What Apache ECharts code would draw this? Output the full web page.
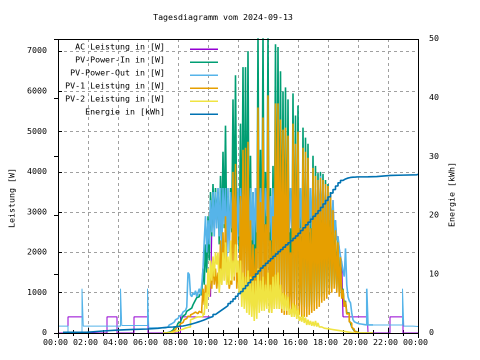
<!DOCTYPE html>
<html><head><meta charset="utf-8">
<script src="https://cdn.jsdelivr.net/npm/echarts@6/dist/echarts.min.js"></script>
<style>html,body{margin:0;padding:0;background:#fff}#c{width:480px;height:360px}</style>
</head><body><div id="c"></div>
<script>
// ---- data (minutes since 00:00) ----
const titleText = 'Tagesdiagramm vom 2024-09-13';
const seriesNames = ['AC Leistung in [W]', 'PV-Power-In in [W]', 'PV-Power-Out in [W]', 'PV-1 Leistung in [W]', 'PV-2 Leistung in [W]', 'Energie in [kWh]'];

const dayStart = 420, dayStep = 5;   // 07:00, every 5 minutes up to 21:00

const pvInDay = [
  0,0,0,10,20,30,50,70,100,130,160,200,
  240,280,320,360,420,460,500,540,580,560,620,660,
  700,760,820,880,900,950,950,1000,1600,1200,2200,1500,
  2900,1800,3500,2400,3700,2600,3600,2800,3500,2200,3900,2400,
  4500,2600,5150,2400,3400,2300,3600,2500,5800,2700,6400,2600,
  3500,2000,5200,1700,6600,1600,6600,1400,7000,1200,4400,1100,
  3500,900,3400,1000,7400,1200,4550,1300,7400,1200,4000,1300,
  7400,1100,3600,1000,4150,1200,7170,1300,7100,1200,6500,1100,
  6000,1000,6100,1000,5800,900,2600,800,5950,850,5400,800,
  5650,750,3000,700,5100,650,4850,600,4700,650,2900,700,
  4400,750,4150,800,3970,850,4000,900,3950,950,3800,1000,
  3700,1100,3500,1100,3100,1200,2600,1100,2300,1000,1900,900,
  1100,700,800,500,500,300,250,150,100,50,30,0,
  0,0,0,0,0,0,0,0,0,0,0,0,
  0
];
const pv1Day = [
  0,0,0,5,10,15,30,45,65,85,110,140,
  170,200,230,260,300,330,360,390,420,400,450,480,
  500,520,520,480,520,540,500,600,1100,700,1200,900,
  1300,900,1700,1100,1800,1200,1600,1100,1500,1100,2300,1200,
  2500,1300,2900,1200,1500,1100,1300,1200,4000,1300,4200,1100,
  1700,1000,3400,900,4550,900,4600,800,4750,700,2800,650,
  2200,550,2100,600,5600,700,3250,750,5350,650,2700,700,
  5900,600,2300,500,2900,600,5700,700,5700,600,5300,500,
  5050,450,5100,450,4900,450,2000,400,5200,450,4700,450,
  5000,450,2600,400,4600,400,4500,400,4350,450,2600,500,
  4100,550,3900,600,3800,650,3850,750,3800,800,3700,850,
  3650,950,3450,1000,3050,1100,2550,1000,2250,900,1880,850,
  1080,650,780,470,490,280,240,140,95,45,25,0,
  0,0,0,0,0,0,0,0,0,0,0,0,
  0
];
const pv2Day = [
  0,0,0,0,5,10,15,20,25,35,45,55,
  65,75,85,95,110,120,130,140,150,150,330,350,
  370,380,390,400,400,400,410,420,500,450,1000,600,
  1600,900,1800,1300,1900,1400,2000,1700,2000,1000,1600,1200,
  2000,1300,2250,1200,1900,1200,2300,1300,1800,1400,2200,1500,
  1800,1000,1800,650,1500,600,1400,500,1550,450,1400,400,
  1300,300,1300,350,1600,500,1300,550,1400,550,1200,600,
  1500,500,1200,500,1400,600,1450,600,1500,600,1200,600,
  1000,550,950,550,900,450,600,400,750,400,700,350,
  600,300,400,280,450,250,380,200,330,200,300,180,
  280,170,300,160,250,150,150,120,120,100,110,90,
  100,80,90,70,80,60,70,50,60,40,50,40,
  40,30,30,20,20,10,10,5,0,0,0,0,
  0,0,0,0,0,0,0,0,0,0,0,0,
  0
];
const pvOutDay = [
  130,130,140,150,180,200,230,250,270,300,330,360,
  400,420,450,480,520,560,600,640,1500,1450,950,900,
  1000,950,1050,900,1000,1100,950,1200,1600,2300,2900,2000,
  2800,2200,3300,2500,3500,2400,3500,2600,3600,2400,3600,2000,
  3600,2700,3600,1900,3600,2000,3500,2600,3600,2700,3600,2200,
  3600,2400,3600,2600,3600,2800,3600,2600,3600,2400,3600,2300,
  3500,2200,3600,2500,3600,2600,3600,2800,3600,2700,3600,2900,
  3600,2500,3400,2300,3600,2600,3600,2800,3600,2700,3600,2600,
  3600,2400,3600,2700,3600,2500,3600,2600,3600,2800,3600,2500,
  3600,2600,3600,2400,3600,2600,3600,2700,3600,2500,3600,2600,
  3600,2700,3600,2600,3800,2700,3900,2800,3700,2700,3700,2600,
  3600,2800,3400,2500,3300,2500,2800,2300,2400,2100,1900,1750,
  1550,1400,2100,1200,900,800,750,500,330,280,250,230,
  230,220,220,210,210,200,200,1100,200,200,200,200,
  200
];
const pvOutNightAM = [[0,170],[40,0],[96,1100],[101,170],[250,1100],[255,185],[358,1100],[363,130],[420,130]];
const pvOutNightPM = [[1260,200],[1378,1100],[1383,170],[1420,160],[1440,160]];

const acNightAM = [[0,0],[40,400],[96,0],[196,400],[236,0],[304,400],[360,0],[490,400]];
const acDayStart = 610, acDayStep = 5;  // 10:10 .. 18:55
const acDay = [
  900,2500,3500,2400,3500,2600,3600,2400,3600,2000,
  3600,2700,3600,1900,3600,2000,3500,2600,3600,2700,3600,2200,
  3600,2400,3600,2600,3600,2800,3600,2600,3600,2400,3600,2300,
  3500,2200,3600,2500,3600,2600,3600,2800,3600,2700,3600,2900,
  3600,2500,3400,2300,3600,2600,3600,2800,3600,2700,3600,2600,
  3600,2400,3600,2700,3600,2500,3600,2600,3600,2800,3600,2500,
  3600,2600,3600,2400,3600,2600,3600,2700,3600,2500,3600,2600,
  3600,2700,3600,2600,3600,2700,3600,2800,3600,2700,3600,2600,
  3600,2800,3400,2500,3300,2500,2800,2300,2400,2100,1900,1750
];
const acNightPM = [[1140,400],[1236,750],[1240,0],[1328,400],[1380,0],[1440,0]];

const energyAM = [[20,0.12],[115,0.34],[180,0.50],[240,0.60],[300,0.68],[360,0.80],[400,0.90]];
const energyDayStart = 420, energyDayStep = 10; // 07:00 .. 20:00
const energyDay = [
  0.95,0.98,1.00,1.02,1.06,1.10,
  1.15,1.19,1.28,1.38,1.48,1.60,
  1.72,1.86,2.00,2.15,2.32,2.50,
  2.65,2.80,3.15,3.45,3.75,4.05,
  4.35,4.65,5.00,5.35,5.80,6.25,
  6.70,7.05,7.55,8.05,8.55,9.05,
  9.55,10.05,10.55,11.05,11.45,11.85,
  12.25,12.65,13.05,13.45,13.85,14.20,
  14.60,15.00,15.35,15.70,16.10,16.50,
  16.95,17.45,17.90,18.40,18.85,19.35,
  19.85,20.30,20.80,21.35,21.95,22.55,
  23.15,23.80,24.40,25.00,25.55,25.95,
  26.20,26.35,26.45,26.50,26.52,26.55,
  26.57
];
const energyPM = [[1240,26.6],[1275,26.8],[1330,26.85],[1380,26.9],[1435,27.0],[1440,27.0]];

// ---- build ----
const colors = ['#9400d3', '#009e73', '#56b4e9', '#e69f00', '#f0e442', '#0072b2'];
const mono = "'DejaVu Sans Mono', monospace";
const fs = 8.3;
function grid(arr, start, step) { return arr.map((v, i) => [start + i * step, v]); }
function fmtTime(v) {
  const h = Math.floor(v / 60) % 24, m = v % 60;
  return String(h).padStart(2, '0') + ':' + String(m).padStart(2, '0') + ' ';
}
// [seriesIndex(for colour/name), data, width, yAxis]
const drawList = [
  [0, acNightAM, 1, 0],
  [0, grid(acDay, acDayStart, acDayStep), 1.2, 0],
  [0, acNightPM, 1, 0],
  [1, grid(pvInDay, dayStart, dayStep), 1.6, 0],
  [2, pvOutNightAM, 1, 0],
  [2, grid(pvOutDay, dayStart, dayStep), 1.6, 0],
  [2, pvOutNightPM, 1, 0],
  [3, grid(pv1Day, dayStart, dayStep), 1.6, 0],
  [4, grid(pv2Day, dayStart, dayStep), 1.6, 0],
  [5, energyAM.concat(grid(energyDay, energyDayStart, energyDayStep), energyPM), 1.6, 1]
];
// join AC segments so steps stay continuous
drawList[0][1] = acNightAM.concat([[610, 400]]);
drawList[1][1] = grid(acDay, acDayStart, acDayStep).concat([[1140, 400]]);

const chart = echarts.init(document.getElementById('c'), null, {renderer: 'canvas', devicePixelRatio: 2});
const txt = {fontFamily: mono, fontSize: fs, color: '#000'};
const legendEls = [];
seriesNames.forEach((n, i) => {
  legendEls.push({type: 'text', x: 165, y: 47.5 + 13 * i, z: 100, silent: true,
    style: {text: n, fill: '#000', fontFamily: mono, fontSize: fs, textAlign: 'right', textVerticalAlign: 'middle', align: 'right', verticalAlign: 'middle'}});
  legendEls.push({type: 'line', z: 100, silent: true,
    shape: {x1: 190, y1: 49.25 + 13 * i, x2: 218, y2: 49.25 + 13 * i},
    style: {stroke: colors[i], lineWidth: 1.5}});
});

const option = {
  animation: false,
  backgroundColor: '#ffffff',
  grid: {left: 58, top: 39, right: 62, bottom: 27, containLabel: false},
  xAxis: [{
    type: 'value', min: 0, max: 1440, interval: 120, position: 'bottom',
    axisLine: {show: false},
    axisTick: {show: true, inside: true, length: 5, lineStyle: {color: '#000', width: 1}},
    minorTick: {show: true, splitNumber: 2, length: 3, lineStyle: {color: '#000', width: 1}},
    axisLabel: Object.assign({formatter: fmtTime, margin: 6}, txt),
    splitLine: {show: true, lineStyle: {color: '#a0a0a0', type: [3, 3], width: 1}},
    minorSplitLine: {show: false}
  }, {
    type: 'value', min: 0, max: 1440, interval: 120, position: 'top',
    axisLine: {show: false},
    axisTick: {show: true, inside: true, length: 5, lineStyle: {color: '#000', width: 1}},
    minorTick: {show: true, splitNumber: 2, length: 3, lineStyle: {color: '#000', width: 1}},
    axisLabel: {show: false},
    splitLine: {show: false}
  }],
  yAxis: [{
    type: 'value', min: 0, max: 7300, interval: 1000, position: 'left',
    axisLine: {show: false},
    axisTick: {show: true, inside: true, length: 4, lineStyle: {color: '#000', width: 1}},
    axisLabel: Object.assign({margin: 11, padding: [0, 0, 4, 0], formatter: v => (v % 1000 === 0 ? String(v) : '')}, txt),
    splitLine: {show: true, lineStyle: {color: '#a0a0a0', type: [3, 3], width: 1}}
  }, {
    type: 'value', min: 0, max: 50, interval: 10, position: 'right',
    axisLine: {show: false},
    axisTick: {show: true, inside: true, length: 4, lineStyle: {color: '#000', width: 1}},
    axisLabel: Object.assign({margin: 11, padding: [0, 0, 4, 0]}, txt),
    splitLine: {show: false}
  }],
  series: drawList.map(([si, d, w, ya]) => ({
    type: 'line', name: seriesNames[si], data: d, step: 'end',
    xAxisIndex: 0, yAxisIndex: ya,
    symbol: 'none', showSymbol: false, clip: true,
    lineStyle: {color: colors[si], width: w},
    itemStyle: {color: colors[si]},
    emphasis: {disabled: true}, silent: true
  })),
  graphic: [
    {type: 'text', x: 223, y: 18, z: 100, silent: true,
      style: {text: titleText, fill: '#000', fontFamily: mono, fontSize: fs, textAlign: 'center', textVerticalAlign: 'middle', align: 'center', verticalAlign: 'middle'}},
    {type: 'text', x: 12.5, y: 198, rotation: Math.PI / 2, z: 100, silent: true,
      style: {text: 'Leistung [W]', fill: '#000', fontFamily: mono, fontSize: fs, textAlign: 'center', textVerticalAlign: 'middle', align: 'center', verticalAlign: 'middle'}},
    {type: 'text', x: 452.5, y: 194.5, rotation: Math.PI / 2, z: 100, silent: true,
      style: {text: 'Energie [kWh]', fill: '#000', fontFamily: mono, fontSize: fs, textAlign: 'center', textVerticalAlign: 'middle', align: 'center', verticalAlign: 'middle'}},
    {type: 'rect', z: 100, silent: true,
      shape: {x: 58.5, y: 39.5, width: 360, height: 294},
      style: {fill: 'none', stroke: '#000', lineWidth: 1}}
  ].concat(legendEls)
};
chart.setOption(option);
</script>
</body></html>
